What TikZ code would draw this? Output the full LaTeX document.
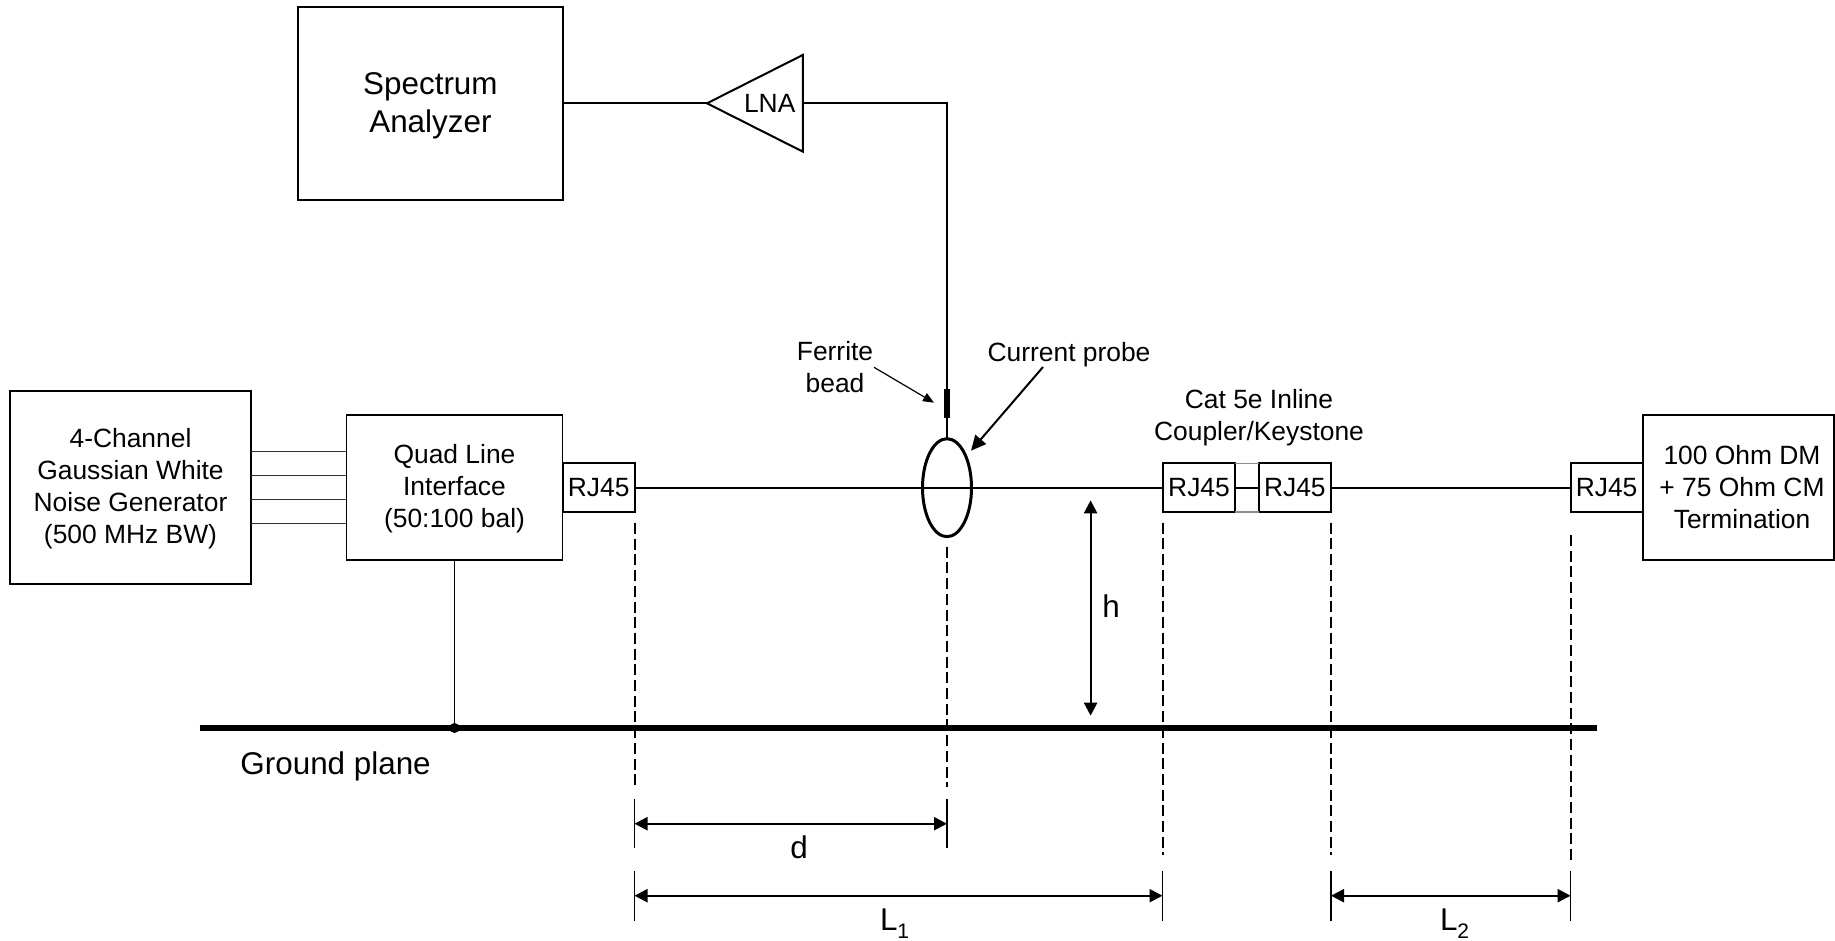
\documentclass[tikz,border=0pt]{standalone}
\usepackage{fontspec}
\setmainfont{Liberation Sans}
\usetikzlibrary{arrows.meta,shapes.geometric}
\newcommand{\fsm}{\fontsize{26.4}{32}\selectfont}
\newcommand{\fbg}{\fontsize{31.4}{38.5}\selectfont}
\tikzset{
  x=1pt,y=-1pt,
  boxn/.style={draw=black,line width=2pt,inner sep=0pt,outer sep=0pt,align=center,font=\fsm},
  lab/.style={inner sep=0pt,outer sep=0pt,align=center,font=\fsm},
  biglab/.style={inner sep=0pt,outer sep=0pt,align=center,font=\fbg},
  wire/.style={draw=black,line width=2pt},
  thinwire/.style={draw=black!80,line width=1.2pt},
  dashline/.style={draw=black,line width=2pt,dash pattern=on 11pt off 4.7pt},
  tick/.style={draw=black,line width=1.5pt},
  dim/.style={draw=black,line width=2.2pt,{Triangle[length=13pt,width=13pt]}-{Triangle[length=13pt,width=13pt]}},
}
\begin{document}
\begin{tikzpicture}
\useasboundingbox (0,0) rectangle (1835,940);
% blocks
\node[boxn,minimum width=241pt,minimum height=193pt] (gen) at (130.5,487.5) {};
\node[lab] (gent) at (130.5,488.5) {4-Channel\\Gaussian White\\Noise Generator\\(500 MHz BW)};
\node[boxn,line width=1.3pt,minimum width=216.3pt,minimum height=145pt] (quad) at (454.5,487.5) {};
\node[lab] (quadt) at (454.5,489) {Quad Line\\Interface\\(50:100 bal)};
\node[boxn,minimum width=72pt,minimum height=48.7pt] (rja) at (598.7,487.7) {RJ45};
\node[boxn,minimum width=72.7pt,minimum height=48.7pt] (rjb) at (1199,487.7) {RJ45};
\node[boxn,minimum width=72.4pt,minimum height=48.7pt] (rjc) at (1294.8,487.7) {RJ45};
\node[boxn,minimum width=72pt,minimum height=48.7pt] (rjd) at (1606.6,487.7) {RJ45};
\node[boxn,minimum width=191.4pt,minimum height=145pt] (term) at (1738.3,487.5) {};
\node[lab] (termt) at (1742,487) {100 Ohm DM\\+ 75 Ohm CM\\Termination};
\node[boxn,minimum width=264.3pt,minimum height=192.7pt] (spec) at (430.4,103.6) {};
\node[biglab] (spect) at (430.4,105.6) {Spectrum\\Analyzer};
\node[draw=black,line width=2pt,isosceles triangle,shape border rotate=180,isosceles triangle stretches,minimum height=95.8pt,minimum width=96.7pt,inner sep=0pt,outer sep=0pt,anchor=apex] (lna) at (707,103.3) {};
\node[lab] (lnat) at (769.7,103) {LNA};
\node[ellipse,draw=black,line width=3pt,fill=none,minimum width=49pt,minimum height=98pt,inner sep=0pt,outer sep=0pt] (probe) at (947,487.7) {};
\node[fill=black,minimum width=5.5pt,minimum height=29.3pt,inner sep=0pt,outer sep=0pt] (bead) at (947,403.6) {};
% labels
\node[lab] (ferr) at (835,367.5) {Ferrite\\bead};
\node[lab] (curr) at (1069,354.7) {Current probe};
\node[lab] (cat) at (1259,418) {Cat 5e Inline\\Coupler/Keystone};
\node[biglab] (gp) at (335.6,766) {Ground plane};
\node[biglab,anchor=base] (hl) at (1111,617) {h};
\node[biglab,anchor=base] (dl) at (799,858) {d};
\node[biglab,anchor=base west] (lone) at (880,930) {L\raisebox{-0.27em}{\fontsize{21}{21}\selectfont 1}};
\node[biglab,anchor=base west] (ltwo) at (1440,930) {L\raisebox{-0.27em}{\fontsize{21}{21}\selectfont 2}};
% ground plane
\coordinate (gl) at (199.5,728);
\coordinate (gr) at (1597,728);
\draw[line width=6pt] (gl) -- (gr);
\node[circle,fill=black,minimum size=10pt,inner sep=0pt] (gnd) at (454.5,728) {};
% wires
\draw[thinwire] (gen.east |- 0,451.7) coordinate (ga) -- (quad.west |- ga);
\draw[thinwire] (gen.east |- 0,475.7) coordinate (gb) -- (quad.west |- gb);
\draw[thinwire] (gen.east |- 0,499.7) coordinate (gc) -- (quad.west |- gc);
\draw[thinwire] (gen.east |- 0,523.7) coordinate (gd) -- (quad.west |- gd);
\draw[draw=black,line width=1.2pt] (quad.south) -- (gnd.center);
\draw[wire] (rja.east) -- (rjb.west);
\draw[wire] (rjb.east) -- (rjc.west);
\draw[draw=black!45,line width=1.3pt] (rjb.north east) -- (rjc.north west);
\draw[draw=black!45,line width=1.3pt] (rjb.south east) -- (rjc.south west);
\draw[wire] (rjc.east) -- (rjd.west);
\draw[wire] (spec.east |- lna.apex) -- (lna.apex);
\draw[wire] (lna.lower side) -| (bead.north);
\draw[wire] (bead.south) -- (probe.north);
% leaders
\coordinate (fs) at (874,367.3); \coordinate (fe) at (934,402.7);
\draw[draw=black,line width=1.2pt,-{Triangle[length=11pt,width=9pt]}] (fs) -- (fe);
\coordinate (cs) at (1043,367); \coordinate (ce) at (971,450.7);
\draw[draw=black,line width=2pt,-{Triangle[length=15pt,width=14pt]}] (cs) -- (ce);
% extension lines
\coordinate (da1) at (634.5,523); \coordinate (da2) at (634.5,788);
\coordinate (db1) at (947,546.7); \coordinate (db2) at (947,786.7);
\coordinate (dc1) at (1162.5,522.7); \coordinate (dc2) at (1162.5,855);
\coordinate (dd1) at (1331,522.7); \coordinate (dd2) at (1331,855);
\coordinate (de1) at (1570.6,535); \coordinate (de2) at (1570.6,860);
\draw[dashline] (da1) -- (da2);
\draw[dashline] (db1) -- (db2);
\draw[dashline] (dc1) -- (dc2);
\draw[dashline] (dd1) -- (dd2);
\draw[dashline] (de1) -- (de2);
% ticks
\coordinate (ta1) at (634.5,799); \coordinate (ta2) at (634.5,848);
\coordinate (tb1) at (947,799); \coordinate (tb2) at (947,848);
\coordinate (tc1) at (634.5,871); \coordinate (tc2) at (634.5,921);
\coordinate (td1) at (1162.5,871); \coordinate (td2) at (1162.5,921);
\coordinate (te1) at (1331,871); \coordinate (te2) at (1331,921);
\coordinate (tf1) at (1570.6,871); \coordinate (tf2) at (1570.6,921);
\draw[tick] (ta1) -- (ta2);
\draw[tick] (tb1) -- (tb2);
\draw[tick] (tc1) -- (tc2);
\draw[tick] (td1) -- (td2);
\draw[tick] (te1) -- (te2);
\draw[tick] (tf1) -- (tf2);
% dimensions
\coordinate (h1) at (1090.6,500.3); \coordinate (h2) at (1090.6,715.7);
\draw[dim] (h1) -- (h2);
\coordinate (d1) at (634.5,823.7); \coordinate (d2) at (947,823.7);
\draw[dim] (d1) -- (d2);
\coordinate (l1) at (634.5,895.7); \coordinate (l2) at (1162.5,895.7);
\draw[dim] (l1) -- (l2);
\coordinate (m1) at (1331,895.7); \coordinate (m2) at (1570.6,895.7);
\draw[dim] (m1) -- (m2);
\end{tikzpicture}
\end{document}
